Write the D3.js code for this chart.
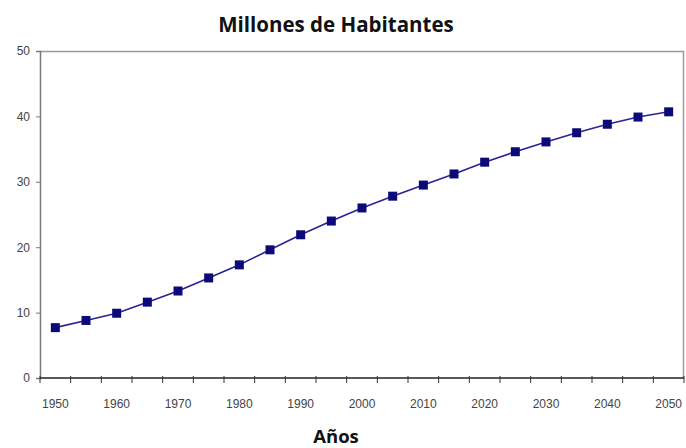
<!DOCTYPE html>
<html>
<head>
<meta charset="utf-8">
<script src="https://cdn.jsdelivr.net/npm/d3@7"></script>
<style>
  html, body { margin: 0; padding: 0; background: #fff; }
  svg { display: block; }
</style>
</head>
<body>
<svg id="chart" width="686" height="448"></svg>
<script>
// Population projection, millions of inhabitants, every 5 years
const years = [1950, 1955, 1960, 1965, 1970, 1975, 1980, 1985, 1990, 1995, 2000,
               2005, 2010, 2015, 2020, 2025, 2030, 2035, 2040, 2045, 2050];
const population = [7.7, 8.8, 9.9, 11.6, 13.3, 15.3, 17.3, 19.6, 21.9, 24.0, 26.0,
                    27.8, 29.5, 31.2, 33.0, 34.6, 36.1, 37.5, 38.8, 39.9, 40.7];
const yTicks = [0, 10, 20, 30, 40, 50];
const xLabelYears = [1950, 1960, 1970, 1980, 1990, 2000, 2010, 2020, 2030, 2040, 2050];

const titleText = "Millones de Habitantes";
const xAxisTitle = "Años";

const svg = d3.select("#chart");
const margin = { left: 40, right: 2, top: 51, bottom: 70 };
const W = 686, H = 448;
const x0 = margin.left, x1 = W - margin.right;
const y0 = H - margin.bottom, y1 = margin.top;

const x = d3.scaleBand().domain(years).range([x0, x1]);
const y = d3.scaleLinear().domain([0, 50]).range([y0, y1]);

const tickFont = "'Liberation Sans', Arial, sans-serif";

// plot frame: light border on top and right
svg.append("path")
  .attr("d", `M${x0},${y1 + 0.5}H${x1 - 0.5}V${y0}`)
  .attr("fill", "none").attr("stroke", "#9a9a9a").attr("stroke-width", 1.5);

// y axis
const yAxis = d3.axisLeft(y).tickValues(yTicks).tickSize(4).tickPadding(6);
const gy = svg.append("g").attr("transform", `translate(${x0},0)`).call(yAxis);
gy.select(".domain").attr("stroke", "#7a7a7a").attr("stroke-width", 1.5);
gy.selectAll(".tick line").attr("stroke", "#7a7a7a");
gy.selectAll(".tick text")
  .attr("font-family", tickFont)
  .attr("font-size", 12).attr("fill", "#444");

// x axis: ticks on category boundaries, labels every ten years
const gx = svg.append("g").attr("transform", `translate(0,${y0})`);
gx.append("line").attr("x1", x0).attr("x2", x1).attr("y1", 0).attr("y2", 0)
  .attr("stroke", "#222").attr("stroke-width", 1.5);
gx.selectAll("line.tk")
  .data(years.concat(["end"]))
  .join("line").attr("class", "tk")
  .attr("x1", (d, i) => i < years.length ? x(d) : x1)
  .attr("x2", (d, i) => i < years.length ? x(d) : x1)
  .attr("y1", -2).attr("y2", 5)
  .attr("stroke", "#333");
gx.selectAll("text.lb")
  .data(xLabelYears)
  .join("text").attr("class", "lb")
  .attr("x", d => x(d) + x.bandwidth() / 2)
  .attr("y", 30)
  .attr("text-anchor", "middle")
  .attr("font-family", tickFont)
  .attr("font-size", 12).attr("fill", "#444")
  .text(d => d);

// series line and markers
const cx = (d, i) => x(years[i]) + x.bandwidth() / 2;
const line = d3.line().x(cx).y(d => y(d));
svg.append("path").datum(population)
  .attr("d", line)
  .attr("fill", "none").attr("stroke", "#2a2490").attr("stroke-width", 1.6);

const ms = 9;
svg.selectAll("rect.mk").data(population)
  .join("rect").attr("class", "mk")
  .attr("x", (d, i) => cx(d, i) - ms / 2)
  .attr("y", d => y(d) - ms / 2)
  .attr("width", ms).attr("height", ms)
  .attr("fill", "#0c0a78");

// titles
svg.append("text")
  .attr("x", 336).attr("y", 32)
  .attr("text-anchor", "middle")
  .attr("font-family", "'Open Sans', sans-serif")
  .attr("font-weight", "bold").attr("font-size", 20.5).attr("fill", "#111")
  .text(titleText);

svg.append("text")
  .attr("x", 336).attr("y", 443)
  .attr("text-anchor", "middle")
  .attr("font-family", "'Open Sans', sans-serif")
  .attr("font-weight", "bold").attr("font-size", 18.5).attr("fill", "#111")
  .text(xAxisTitle);
</script>
</body>
</html>
